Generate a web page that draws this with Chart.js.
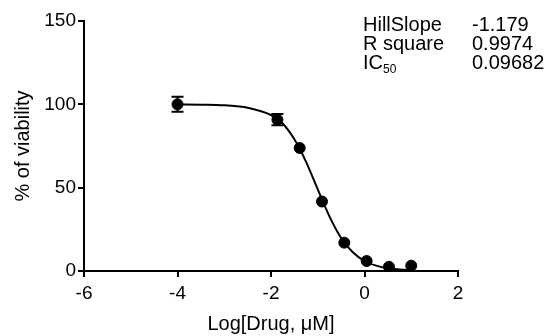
<!DOCTYPE html>
<html>
<head>
<meta charset="utf-8">
<script src="https://cdn.jsdelivr.net/npm/chart.js@4.4.1/dist/chart.umd.min.js"></script>
<style>
  html, body { margin: 0; padding: 0; background: #fff; }
  #wrap { width: 547px; height: 336px; }
</style>
</head>
<body>
<div id="wrap"><canvas id="chart" width="547" height="336"></canvas></div>
<script>
// measured points (log concentration, % viability, error)
const logConc = [-4, -1.863, -1.386, -0.909, -0.432, 0.046, 0.523, 1];
const viability = [100, 90.8, 73.8, 41.7, 17, 6, 2.5, 3.2];
const errBars = [4.5, 3.4, 0, 0, 0, 0, 0, 0];

// fitted curve
const fitX = [-4, -3.5, -3, -2.5, -2, -1.75, -1.5, -1.25, -1, -0.75, -0.5, -0.25, 0, 0.25, 0.5, 0.75, 1];
const fitY = [100, 99.8, 99.4, 98, 93.6, 88.5, 79, 65.5, 49, 32.8, 19.8, 11.2, 6, 3.2, 1.6, 0.9, 0.45];

const xTicks = [-6, -4, -2, 0, 2];
const yTicks = [0, 50, 100, 150];

// fit statistics shown top right
const statLabels = ['HillSlope', 'R square', 'IC'];
const statValues = ['-1.179', '0.9974', '0.09682'];

const FONT = "'Liberation Sans', Arial, sans-serif";

const errorBarPlugin = {
  id: 'errorBars',
  afterDatasetsDraw(chart) {
    const {ctx, scales: {x, y}} = chart;
    ctx.save();
    ctx.strokeStyle = '#000';
    ctx.lineWidth = 2;
    logConc.forEach((lc, i) => {
      if (!errBars[i]) return;
      const px = x.getPixelForValue(lc);
      const top = y.getPixelForValue(viability[i] + errBars[i]);
      const bot = y.getPixelForValue(viability[i] - errBars[i]);
      ctx.beginPath();
      ctx.moveTo(px, top); ctx.lineTo(px, bot);
      ctx.moveTo(px - 6, top); ctx.lineTo(px + 6, top);
      ctx.moveTo(px - 6, bot); ctx.lineTo(px + 6, bot);
      ctx.stroke();
    });
    ctx.restore();
  }
};

const statsPlugin = {
  id: 'stats',
  afterDraw(chart) {
    const ctx = chart.ctx;
    ctx.save();
    ctx.fillStyle = '#000';
    ctx.textBaseline = 'alphabetic';
    ctx.textAlign = 'left';
    ctx.font = '20px ' + FONT;
    for (let i = 0; i < statLabels.length; i++) {
      const base = 31 + i * 19;
      ctx.fillText(statLabels[i], 363, base);
      ctx.fillText(statValues[i], 472, base);
    }
    // subscript of IC50
    const icw = ctx.measureText('IC').width;
    ctx.font = '12px ' + FONT;
    ctx.fillText('50', 363 + icw, 31 + 2 * 19 + 4);
    ctx.restore();
  }
};

new Chart(document.getElementById('chart'), {
  type: 'scatter',
  data: {
    datasets: [{
      label: 'data',
      data: logConc.map((v, i) => ({x: v, y: viability[i]})),
      backgroundColor: '#000',
      borderColor: '#000',
      pointRadius: 5.5,
      pointHoverRadius: 5.5,
      order: 0
    }, {
      label: 'fit',
      data: fitX.map((v, i) => ({x: v, y: fitY[i]})),
      showLine: true,
      borderColor: '#000',
      borderWidth: 2,
      pointRadius: 0,
      cubicInterpolationMode: 'monotone',
      order: 1
    }]
  },
  options: {
    responsive: false,
    animation: false,
    layout: {padding: {left: 0, right: 89, top: 21, bottom: 0}},
    plugins: {
      legend: {display: false},
      tooltip: {enabled: false}
    },
    scales: {
      x: {
        type: 'linear',
        min: -6,
        max: 2,
        afterBuildTicks: (s) => { s.ticks = xTicks.map(v => ({value: v})); },
        afterFit: (s) => { s.height = 65; },
        grid: {drawOnChartArea: false, drawTicks: true, tickLength: 6, color: '#000', lineWidth: 2},
        border: {color: '#000', width: 2},
        ticks: {color: '#000', padding: 5, font: {family: FONT, size: 19}, maxRotation: 0},
        title: {display: true, text: 'Log[Drug, \u03bcM]', color: '#000', font: {family: FONT, size: 20}, padding: {top: 0, bottom: 0}}
      },
      y: {
        min: 0,
        max: 150,
        afterBuildTicks: (s) => { s.ticks = yTicks.map(v => ({value: v})); },
        afterFit: (s) => { s.width = 84; },
        grid: {drawOnChartArea: false, drawTicks: true, tickLength: 6, color: '#000', lineWidth: 2},
        border: {color: '#000', width: 2},
        ticks: {color: '#000', padding: 2, font: {family: FONT, size: 19}},
        title: {display: true, text: '% of viability', color: '#000', font: {family: FONT, size: 20}, padding: {top: 11, bottom: 0}}
      }
    }
  },
  plugins: [errorBarPlugin, statsPlugin]
});
</script>
</body>
</html>
